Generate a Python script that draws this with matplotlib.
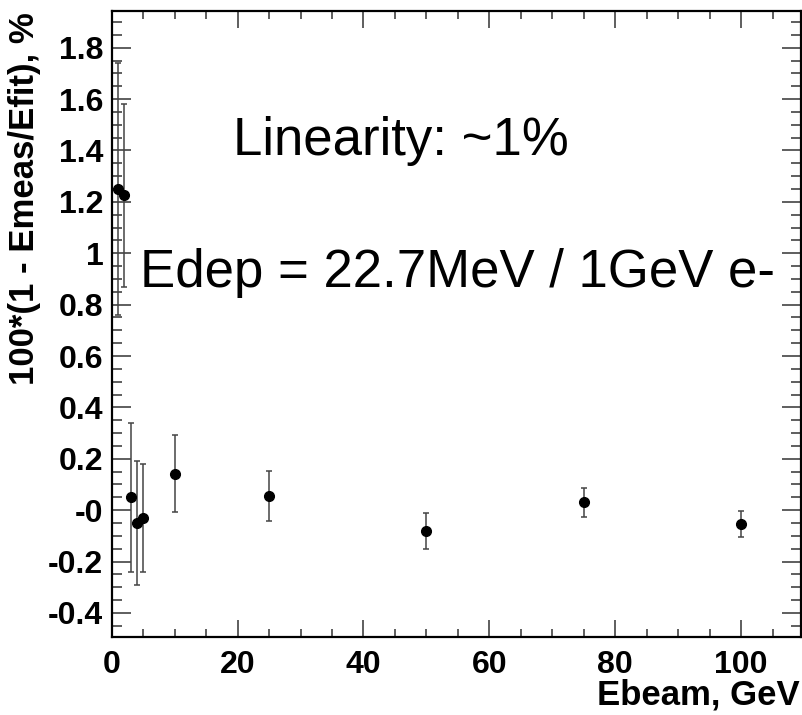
import matplotlib
matplotlib.use("Agg")
import matplotlib.pyplot as plt
from matplotlib.ticker import MultipleLocator, FixedLocator, FixedFormatter

# ---- data ----
ebeam = [1, 2, 3, 4, 5, 10, 25, 50, 75, 100]
nonlin = [1.25, 1.225, 0.05, -0.05, -0.03, 0.142, 0.055, -0.083, 0.031, -0.053]
err = [0.49, 0.355, 0.29, 0.243, 0.21, 0.15, 0.097, 0.07, 0.056, 0.05]

ytick_vals = [-0.4, -0.2, 0.0, 0.2, 0.4, 0.6, 0.8, 1.0, 1.2, 1.4, 1.6, 1.8]
ytick_labels = ["-0.4", "-0.2", "-0", "0.2", "0.4", "0.6", "0.8", "1", "1.2", "1.4", "1.6", "1.8"]
xtick_vals = [0, 20, 40, 60, 80, 100]
xtick_labels = ["0", "20", "40", "60", "80", "100"]

xlabel = "Ebeam, GeV"
ylabel = "100*(1 - Emeas/Efit), %"
text1 = "Linearity: ~1%"
text2 = "Edep = 22.7MeV / 1GeV e-"

plt.rcParams['font.family'] = ['Liberation Sans', 'DejaVu Sans']

W, H = 803, 715
fig = plt.figure(figsize=(W / 100, H / 100), dpi=100)
ax = fig.add_axes([111.7 / W, 1 - 637.3 / H, (801 - 111.7) / W, (637.3 - 11) / H])

ax.errorbar(ebeam, nonlin, yerr=err, fmt='o', color='black', markersize=7,
            ecolor='#444444', elinewidth=1.1, capsize=2.2, capthick=1.1)

ax.set_xlim(0, 109.5)
ax.set_ylim(-0.495, 1.943)

ax.xaxis.set_major_locator(FixedLocator(xtick_vals))
ax.xaxis.set_major_formatter(FixedFormatter(xtick_labels))
ax.xaxis.set_minor_locator(MultipleLocator(5))
ax.yaxis.set_major_locator(FixedLocator(ytick_vals))
ax.yaxis.set_major_formatter(FixedFormatter(ytick_labels))
ax.yaxis.set_minor_locator(MultipleLocator(0.05))

for s in ax.spines.values():
    s.set_linewidth(1.6)

ax.tick_params(axis='both', which='both', direction='in', top=True, right=True,
               width=1.1, color='#333333')
ax.tick_params(axis='x', which='major', length=12.5, pad=9)
ax.tick_params(axis='x', which='minor', length=6)
ax.tick_params(axis='y', which='major', length=14, pad=6)
ax.tick_params(axis='y', which='minor', length=7)
for lab in ax.get_xticklabels() + ax.get_yticklabels():
    lab.set_fontsize(23)
    lab.set_fontweight('bold')

fig.text(800 / W, 1 - 695 / H, xlabel, ha='right', va='center',
         fontsize=25, fontweight='bold')
fig.text(25 / W, 1 - 12 / H, ylabel, ha='center', va='top', rotation=90,
         fontsize=25, fontweight='bold')

ax.text(233 / W, 1 - 155 / H, text1, transform=fig.transFigure,
        ha='left', va='baseline', fontsize=38)
ax.text(140 / W, 1 - 286.7 / H, text2, transform=fig.transFigure,
        ha='left', va='baseline', fontsize=38)

fig.savefig("out.png", dpi=100)
